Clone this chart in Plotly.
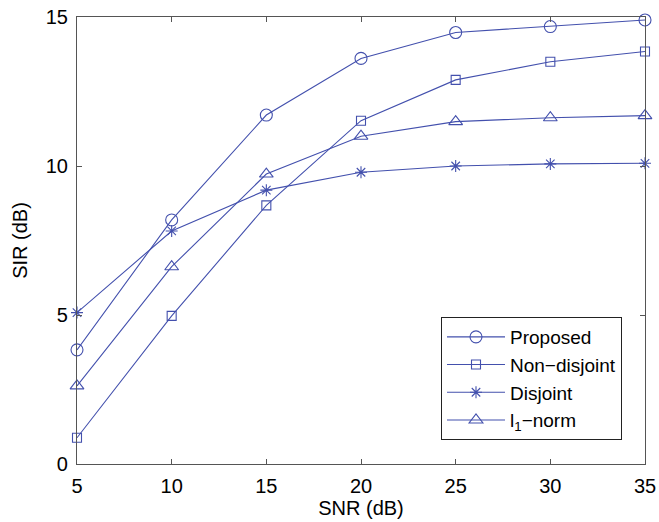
import plotly.graph_objects as go

snr = [5, 10, 15, 20, 25, 30, 35]
proposed = [3.83, 8.19, 11.71, 13.61, 14.48, 14.68, 14.90]
non_disjoint = [0.88, 4.97, 8.68, 11.52, 12.89, 13.50, 13.84]
disjoint = [5.08, 7.82, 9.19, 9.79, 10.00, 10.07, 10.09]
l1_norm = [2.62, 6.62, 9.73, 11.00, 11.49, 11.62, 11.69]

x_ticks = [5, 10, 15, 20, 25, 30, 35]
y_ticks = [0, 5, 10, 15]

blue = "#4350ad"
font = "Liberation Sans, Arial, sans-serif"

series = [
    ("Proposed", proposed, "circle-open", 12),
    ("Non\u2212disjoint", non_disjoint, "square-open", 9),
    ("Disjoint", disjoint, "asterisk-open", 10),
    ("l<sub>1</sub>\u2212norm", l1_norm, "triangle-up-open", 12),
]

fig = go.Figure()
for name, vals, sym, size in series:
    fig.add_trace(go.Scatter(
        x=snr, y=vals, name=name, mode="lines+markers",
        line=dict(color=blue, width=1.1),
        marker=dict(symbol=sym, size=size, color=blue,
                    line=dict(color=blue, width=1.1)),
        cliponaxis=False,
    ))

axis_common = dict(
    showline=True, linecolor="#555555", linewidth=1.2, mirror="ticks",
    ticks="inside", ticklen=5, tickcolor="#555555", showgrid=False,
    zeroline=False, automargin=False,
    tickfont=dict(family=font, size=20, color="black"),
)

fig.update_layout(
    width=659, height=522,
    margin=dict(l=77, r=14, t=17, b=58),
    paper_bgcolor="white", plot_bgcolor="white",
    font=dict(family=font, size=20, color="black"),
    xaxis=dict(range=[5, 35], tickvals=x_ticks, ticklabelstandoff=4,
               title=dict(text="SNR (dB)", font=dict(size=20), standoff=3),
               **axis_common),
    yaxis=dict(range=[0, 15], tickvals=y_ticks, ticklabelstandoff=4,
               title=dict(text="SIR (dB)", font=dict(size=20), standoff=12),
               **axis_common),
    legend=dict(x=(441 - 77) / 568, y=(464 - 317) / 447,
                xanchor="left", yanchor="top",
                bordercolor="#222222", borderwidth=1, bgcolor="white",
                font=dict(family=font, size=19), itemwidth=58,
                tracegroupgap=0),
    showlegend=True,
)

fig.write_html("out.html")
